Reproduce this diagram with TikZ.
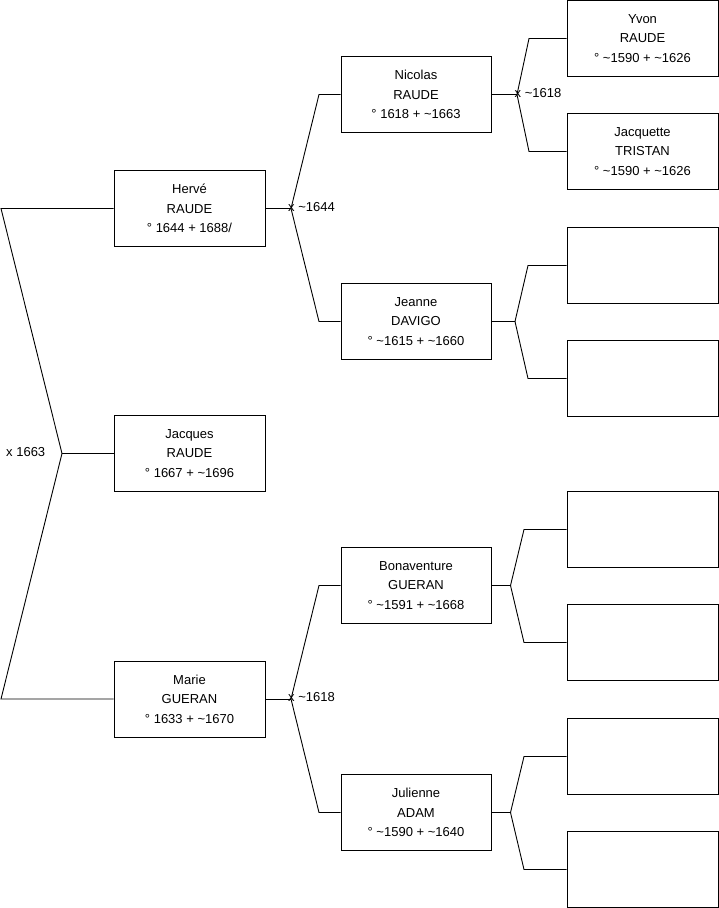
\documentclass[tikz,border=0pt]{standalone}
\usepackage{fontspec}
\setmainfont{Liberation Sans}
\begin{document}
\begin{tikzpicture}[x=1pt,y=-1pt,
  person/.style={draw=black,line width=0.9pt,fill=white,minimum width=151pt,minimum height=76pt,
    align=center,inner sep=0pt,font=\fontsize{13}{19.5}\selectfont},
  link/.style={draw=black,line width=0.9pt},
  mlabel/.style={anchor=west,inner sep=0pt,font=\fontsize{13}{15}\selectfont}]
\useasboundingbox (0,0) rectangle (719,908);
% column 1
\node[person] (herve) at (189.5,208.5) {Hervé\\RAUDE\\° 1644 + 1688/};
\node[person] (jacques) at (189.5,453.5) {Jacques\\RAUDE\\° 1667 + \textasciitilde 1696};
\node[person] (marie) at (189.5,699) {Marie\\GUERAN\\° 1633 + \textasciitilde 1670};
% column 2
\node[person,minimum width=150pt] (nicolas) at (416,94.5) {Nicolas\\RAUDE\\° 1618 + \textasciitilde 1663};
\node[person,minimum width=150pt] (jeanne) at (416,321.5) {Jeanne\\DAVIGO\\° \textasciitilde 1615 + \textasciitilde 1660};
\node[person,minimum width=150pt] (bonaventure) at (416,585.5) {Bonaventure\\GUERAN\\° \textasciitilde 1591 + \textasciitilde 1668};
\node[person,minimum width=150pt] (julienne) at (416,812.5) {Julienne\\ADAM\\° \textasciitilde 1590 + \textasciitilde 1640};
% column 3
\node[person] (yvon) at (642.5,38.5) {Yvon\\RAUDE\\° \textasciitilde 1590 + \textasciitilde 1626};
\node[person] (jacquette) at (642.5,151.5) {Jacquette\\TRISTAN\\° \textasciitilde 1590 + \textasciitilde 1626};
\node[person] (e1) at (642.5,265.5) {};
\node[person] (e2) at (642.5,378.5) {};
\node[person] (e3) at (642.5,529.5) {};
\node[person] (e4) at (642.5,642.5) {};
\node[person] (e5) at (642.5,756.5) {};
\node[person] (e6) at (642.5,869.5) {};
% fork 0
\coordinate (f0) at (62,453.5);
\coordinate (f0a) at (1,208.5);
\coordinate (f0b) at (1,699);
\draw[link] (herve.west) -- (f0a) -- (f0) -- (f0b) -- (marie.west);
\draw[link] (f0) -- (jacques.west);
\node[mlabel] (m0) at (6,452) {x 1663};
% fork Herve
\coordinate (f1) at (291,208.5);
\coordinate (f1a) at (319,94.5);
\coordinate (f1b) at (319,321.5);
\draw[link] (herve.east) -- (f1);
\draw[link] (nicolas.west) -- (f1a) -- (f1) -- (f1b) -- (jeanne.west);
\node[mlabel] (m1) at (288,207) {x \textasciitilde 1644};
% fork Marie
\coordinate (f2) at (291,699);
\coordinate (f2a) at (319,585.5);
\coordinate (f2b) at (319,812.5);
\draw[link] (marie.east) -- (f2);
\draw[link] (bonaventure.west) -- (f2a) -- (f2) -- (f2b) -- (julienne.west);
\node[mlabel] (m2) at (288,697.5) {x \textasciitilde 1618};
% fork Nicolas
\coordinate (f3) at (517,94.5);
\coordinate (f3a) at (529,38.5);
\coordinate (f3b) at (529,151.5);
\draw[link] (nicolas.east) -- (f3);
\draw[link] (yvon.west) -- (f3a) -- (f3) -- (f3b) -- (jacquette.west);
\node[mlabel] (m3) at (514.5,93) {x \textasciitilde 1618};
% fork Jeanne
\coordinate (f4) at (515,321.5);
\coordinate (f4a) at (528,265.5);
\coordinate (f4b) at (528,378.5);
\draw[link] (jeanne.east) -- (f4);
\draw[link] (e1.west) -- (f4a) -- (f4) -- (f4b) -- (e2.west);
% fork Bonaventure
\coordinate (f5) at (510.5,585.5);
\coordinate (f5a) at (524,529.5);
\coordinate (f5b) at (524,642.5);
\draw[link] (bonaventure.east) -- (f5);
\draw[link] (e3.west) -- (f5a) -- (f5) -- (f5b) -- (e4.west);
% fork Julienne
\coordinate (f6) at (510.5,812.5);
\coordinate (f6a) at (524,756.5);
\coordinate (f6b) at (524,869.5);
\draw[link] (julienne.east) -- (f6);
\draw[link] (e5.west) -- (f6a) -- (f6) -- (f6b) -- (e6.west);
\end{tikzpicture}
\end{document}
